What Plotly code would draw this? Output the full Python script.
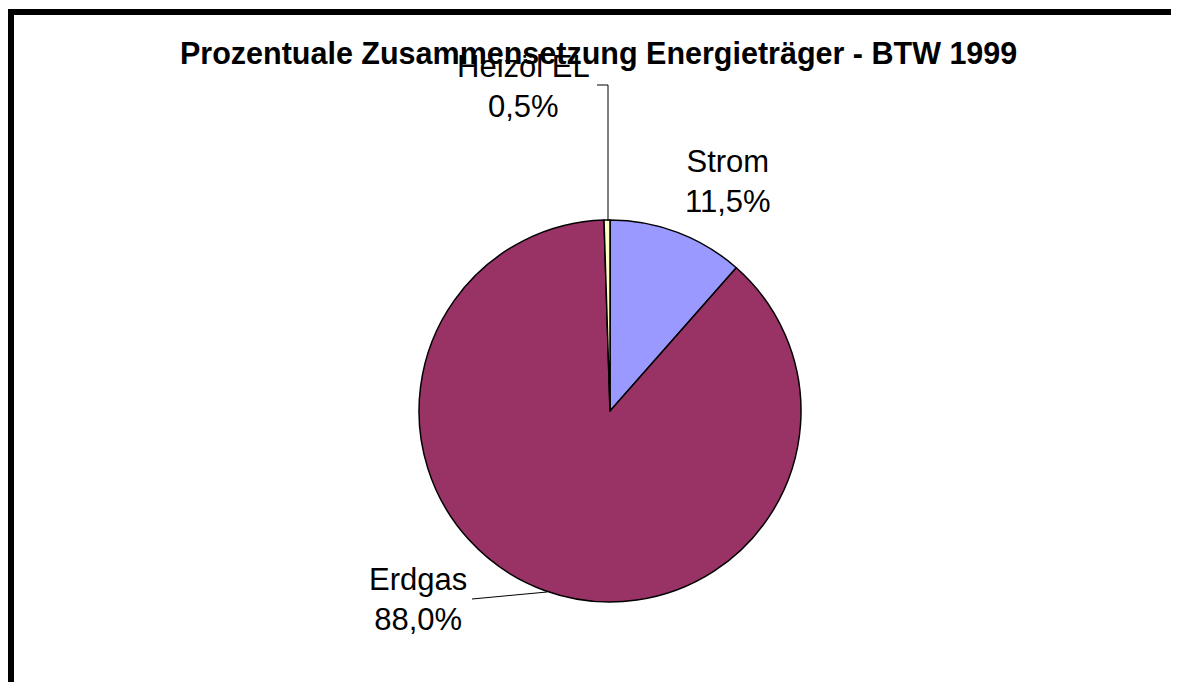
import plotly.graph_objects as go

OFF = 8  # page body margin offset
W, H = 1179 - OFF, 682 - OFF  # figure fills the rest of the window exactly

categories = ["Strom", "Erdgas", "Heizöl EL"]
values = [11.5, 88.0, 0.5]
value_labels = ["11,5%", "88,0%", "0,5%"]
colors = ["#9999FF", "#993366", "#FFFFCC"]
title_text = "Prozentuale Zusammensetzung Energieträger - BTW 1999"

# label placement (pixel centres in the screenshot) for each category
label_pos = {"Strom": (728, 182), "Erdgas": (418, 599), "Heizöl EL": (523, 86)}


def px(x):
    return (x - OFF) / W


def py(y):
    return 1 - (y - OFF) / H


cx, cy, r = 610, 411, 191

fig = go.Figure(
    go.Pie(
        labels=categories,
        values=values,
        marker=dict(colors=colors, line=dict(color="black", width=1.5)),
        sort=False,
        direction="clockwise",
        rotation=0,
        textinfo="none",
        hoverinfo="label+percent",
        showlegend=False,
        domain=dict(x=[px(cx - r), px(cx + r)], y=[py(cy + r), py(cy - r)]),
    )
)

annotations = []
for cat, lab in zip(categories, value_labels):
    x, y = label_pos[cat]
    annotations.append(
        dict(
            x=px(x), y=py(y), xref="paper", yref="paper",
            text=f"{cat}<br>{lab}", showarrow=False,
            xanchor="center", yanchor="middle",
            font=dict(family="Liberation Sans, Arial", size=31, color="black"),
        )
    )

annotations.append(
    dict(
        x=px(598), y=py(53), xref="paper", yref="paper",
        text=f"<b>{title_text}</b>", showarrow=False,
        xanchor="center", yanchor="middle",
        font=dict(family="Liberation Sans, Arial", size=30.5, color="black"),
    )
)

shapes = [
    # leader lines
    dict(type="line", xref="paper", yref="paper", x0=px(597), y0=py(85), x1=px(608), y1=py(85),
         line=dict(color="black", width=1)),
    dict(type="line", xref="paper", yref="paper", x0=px(608), y0=py(85), x1=px(608), y1=py(221),
         line=dict(color="black", width=1)),
    dict(type="line", xref="paper", yref="paper", x0=px(472), y0=py(599), x1=px(547), y1=py(592),
         line=dict(color="black", width=1)),
    # chart frame (top and left visible)
    dict(type="line", xref="paper", yref="paper", x0=px(8), y0=py(12), x1=px(1179 + 20), y1=py(12),
         line=dict(color="black", width=6)),
    dict(type="line", xref="paper", yref="paper", x0=px(11), y0=py(9), x1=px(11), y1=py(682 + 20),
         line=dict(color="black", width=6)),
]

fig.update_layout(
    width=W, height=H,
    margin=dict(l=0, r=0, t=0, b=0),
    paper_bgcolor="white", plot_bgcolor="white",
    annotations=annotations,
    shapes=shapes,
)

fig.write_html("out.html")
